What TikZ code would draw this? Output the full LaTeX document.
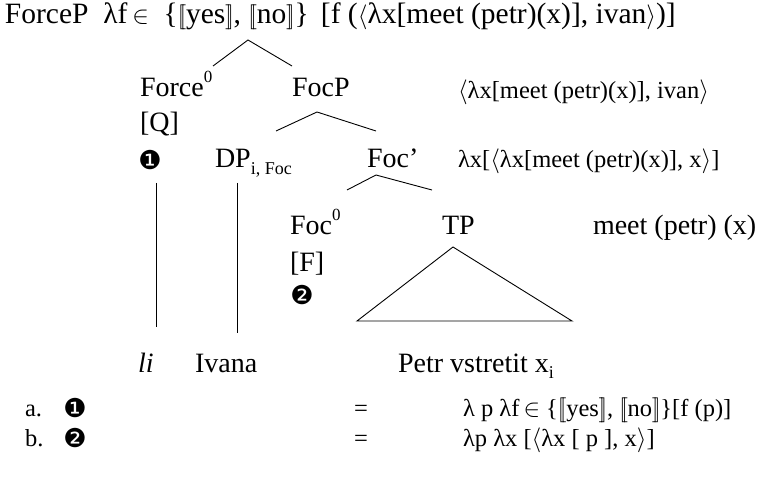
\documentclass[tikz,border=0pt]{standalone}
\usepackage{fontspec}
\setmainfont{Liberation Serif}
\newfontfamily\dvsans{DejaVu Sans}
\newcommand{\mysup}[1]{\raisebox{0.5em}{\fontsize{17}{17}\selectfont #1}}
\newcommand{\mysub}[1]{\raisebox{-0.22em}{\fontsize{18}{18}\selectfont #1}}
\newcommand{\myLB}{$[\![$}
\newcommand{\myRB}{$]\!]$}
\newcommand{\myin}{$\in$}
\newcommand{\myla}{$\langle$}
\newcommand{\myra}{$\rangle$}
\begin{document}
\begin{tikzpicture}[x=1pt,y=-1pt,
  every node/.style={inner sep=0pt,outer sep=0pt,font=\fontsize{28}{32}\selectfont},
  txt/.style={anchor=base west},
  top/.style={anchor=base west,font=\fontsize{29.5}{33}\selectfont},
  sem/.style={anchor=base west,font=\fontsize{24.5}{28}\selectfont},
  low/.style={anchor=base west,font=\fontsize{24.5}{28}\selectfont},
  circ/.style={font=\dvsans\fontsize{26}{26}\selectfont},
  br/.style={line width=0.9pt}]
\useasboundingbox (0,0) rectangle (768,478);
% text
\node[top] (root) at (5,24) {ForceP \ λf\,\myin\ \ \{\myLB yes\myRB, \myLB no\myRB\} \,[f (\myla λx[meet (petr)(x)], ivan\myra)]};
\node[txt] (force0) at (140,97) {Force\mysup{0}};
\node[txt] (focp) at (292,97) {FocP};
\node[sem] (sem1) at (458,99) {\myla λx[meet (petr)(x)], ivan\myra};
\node[txt] (q) at (140,132) {[Q]};
\node[circ] (c1) at (150,160) {❶};
\node[txt] (dp) at (215,168) {DP\mysub{i, Foc}};
\node[txt] (focbar) at (367,168) {Foc’};
\node[sem] (sem2) at (458,168) {λx[\myla λx[meet (petr)(x)], x\myra]};
\node[txt] (foc0) at (290,235) {Foc\mysup{0}};
\node[txt] (tp) at (442,235) {TP};
\node[txt] (sem3) at (593,235) {meet (petr) (x)};
\node[txt] (fF) at (290,272) {[F]};
\node[circ] (c2) at (302,295) {❷};
\node[txt] (li) at (138,372) {\textit{li}};
\node[txt] (ivana) at (195,372) {Ivana};
\node[txt] (petr) at (398,372) {Petr vstretit x\mysub{i}};
\node[low] (la) at (25,416) {a.};
\node[circ] (ca) at (75,408) {❶};
\node[low] (eqa) at (354,416) {=};
\node[low] (fa) at (463,416) {λ p λf\,\myin\ \{\myLB yes\myRB, \myLB no\myRB\}[f (p)]};
\node[low] (lb) at (25,446) {b.};
\node[circ] (cb) at (75,438) {❷};
\node[low] (eqb) at (354,446) {=};
\node[low] (fb) at (463,446) {λp λx [\myla λx [ p ], x\myra]};
% branch points
\coordinate (ra) at (248,40);
\coordinate (rl) at (213,66);
\coordinate (rr) at (292,66);
\coordinate (fa1) at (317,112);
\coordinate (fl1) at (276,131);
\coordinate (fr1) at (376,131);
\coordinate (fa2) at (376,175);
\coordinate (fl2) at (347,190);
\coordinate (fr2) at (432,190);
\coordinate (v1t) at (156,183);
\coordinate (v1b) at (156,327);
\coordinate (v2t) at (237,183);
\coordinate (v2b) at (237,333);
\coordinate (ta) at (453,247);
\coordinate (tl) at (357,321);
\coordinate (tr) at (572,321);
\draw[br] (rl) -- (ra) -- (rr);
\draw[br] (fl1) -- (fa1) -- (fr1);
\draw[br] (fl2) -- (fa2) -- (fr2);
\draw[br] (v1t) -- (v1b);
\draw[line width=0.7pt] (v2t) -- (v2b);
\draw[br] (ta) -- (tl) -- (tr) -- cycle;
\end{tikzpicture}
\end{document}
